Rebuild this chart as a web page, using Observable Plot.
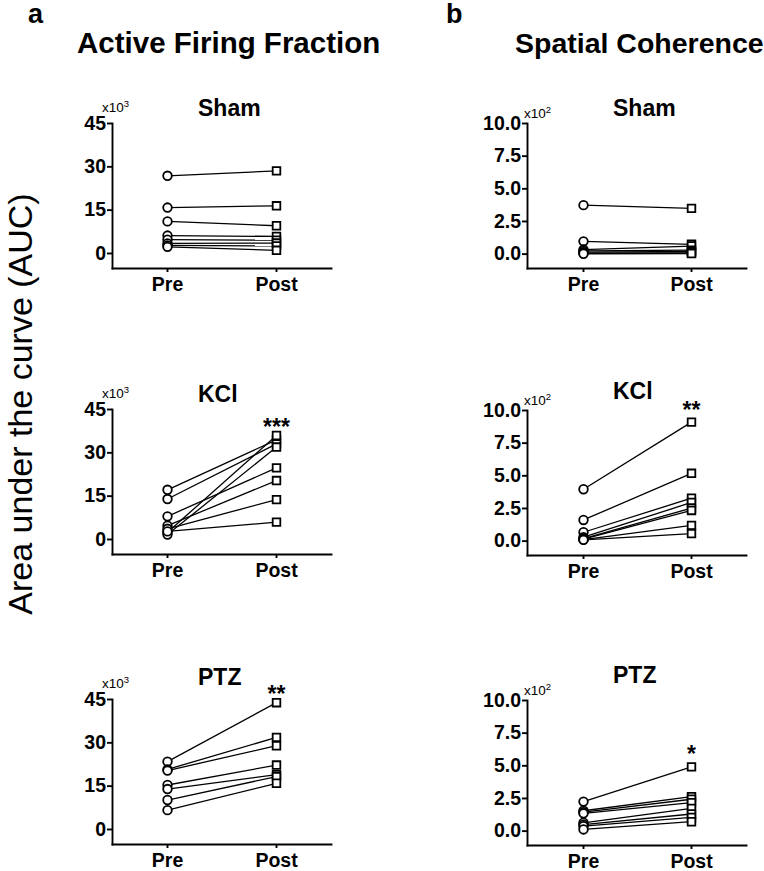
<!DOCTYPE html>
<html><head><meta charset="utf-8">
<script src="https://cdn.jsdelivr.net/npm/d3@7"></script>
<script src="https://cdn.jsdelivr.net/npm/@observablehq/plot@0.6"></script>
<style>
html,body{margin:0;padding:0;background:#fff;overflow:hidden}
#page{position:relative;width:764px;height:871px;font-family:"Liberation Sans",Arial,sans-serif}
#page > svg{position:absolute}
</style></head><body><div id="page"></div>
<script>
// ---- data ----
const phases = ["Pre", "Post"];
const groups = ["Sham", "KCl", "PTZ"];
const columns = ["Active Firing Fraction", "Spatial Coherence"];
const panelLetters = ["a", "b"];
const yLabel = "Area under the curve (AUC)";

// Active Firing Fraction (x10^3)
const affShamPre  = [26.9, 15.9, 11.1, 6.2, 4.8, 3.5, 2.8, 2.3];
const affShamPost = [28.6, 16.5, 9.6, 5.9, 4.6, 3.6, 2.6, 1.1];
const affKClPre   = [17.2, 14.0, 8.0, 4.8, 2.5, 1.7, 3.7, 2.8];
const affKClPost  = [34.5, 33.1, 24.8, 20.4, 36.0, 32.0, 13.8, 6.0];
const affPTZPre   = [23.5, 20.8, 20.4, 15.4, 14.0, 10.2, 6.7];
const affPTZPost  = [43.9, 31.9, 29.0, 22.3, 19.0, 18.3, 16.0];

// Spatial Coherence (x10^2)
const scShamPre  = [3.75, 0.98, 0.35, 0.25, 0.15, 0.08, 0.03];
const scShamPost = [3.50, 0.75, 0.62, 0.30, 0.20, 0.10, 0.05];
const scKClPre   = [3.97, 1.62, 0.68, 0.30, 0.20, 0.15, 0.12, 0.10];
const scKClPost  = [9.11, 5.19, 3.29, 2.96, 2.53, 2.35, 1.20, 0.58];
const scPTZPre   = [2.26, 1.56, 1.45, 1.36, 0.64, 0.50, 0.38, 0.13];
const scPTZPost  = [4.92, 2.64, 2.44, 2.18, 1.74, 1.31, 1.05, 0.72];

const affTicks = [0, 15, 30, 45];
const scTicks = [0, 2.5, 5.0, 7.5, 10.0];
const affMultiplier = "3";
const scMultiplier = "2";
const affStars = ["", "***", "**"];
const scStars = ["", "**", "*"];

// ---- layout ----
const page = document.getElementById("page");
const FONT = "Liberation Sans, Arial, sans-serif";
const plotH = 145, mTop = 30, mBottom = 26;

const colSpec = [
  {left: 40, width: 300, marginLeft: 72, marginRight: 9, xRange: [127, 236],
   yDomain: [-5.2, 45], ticks: affTicks, fmt: d => String(d), starDy: -8,
   tops: [123, 409, 699], titleX: 198, titleY: [116, 402, 685],
   multX: 102, multDy: -11, mult: affMultiplier, stars: affStars,
   data: [[affShamPre, affShamPost], [affKClPre, affKClPost], [affPTZPre, affPTZPost]]},
  {left: 440, width: 316, marginLeft: 87, marginRight: 10, xRange: [142.5, 250.5],
   yDomain: [-1.1, 10], ticks: scTicks, fmt: d => d.toFixed(1), starDy: -12,
   tops: [123, 410, 700], titleX: 613, titleY: [116, 399, 683],
   multX: 524, multDy: -5, mult: scMultiplier, stars: scStars,
   data: [[scShamPre, scShamPost], [scKClPre, scKClPost], [scPTZPre, scPTZPost]]}
];

function panel(spec, pre, post, star) {
  const links = pre.map((p, i) => ({pre: p, post: post[i]}));
  const preRows = pre.map(v => ({phase: phases[0], value: v}));
  const postRows = post.map(v => ({phase: phases[1], value: v}));
  const marks = [
    Plot.frame({anchor: "left", stroke: "#000", strokeWidth: 1.9}),
    Plot.frame({anchor: "bottom", stroke: "#000", strokeWidth: 1.9}),
    Plot.axisY({ticks: spec.ticks, tickFormat: spec.fmt, tickSize: 5, tickPadding: 1.5,
                strokeWidth: 1.9, label: null, fontWeight: "bold", fontSize: 19.5}),
    Plot.axisX({tickSize: 4, tickPadding: 5, strokeWidth: 1.9, label: null,
                fontWeight: "bold", fontSize: 19.5}),
    Plot.link(links, {x1: () => phases[0], x2: () => phases[1], y1: "pre", y2: "post",
                      stroke: "#000", strokeWidth: 1.3}),
    Plot.dot(preRows, {x: "phase", y: "value", symbol: "circle", r: 4.3,
                       stroke: "#000", strokeWidth: 1.8, fill: "#fff"}),
    Plot.dot(postRows, {x: "phase", y: "value", symbol: "square", r: 4.3,
                        stroke: "#000", strokeWidth: 1.8, fill: "#fff"})
  ];
  if (star) {
    marks.push(Plot.text([star], {x: () => phases[1], y: () => d3.max(post), text: d => d,
      dy: spec.starDy, fontSize: 23, fontWeight: "bold", fill: "#000"}));
  }
  return Plot.plot({
    width: spec.width, height: mTop + plotH + mBottom,
    marginLeft: spec.marginLeft, marginRight: spec.marginRight,
    marginTop: mTop, marginBottom: mBottom,
    style: {fontFamily: FONT, fontSize: "19px", fontWeight: "bold", color: "#000",
            background: "transparent", overflow: "visible"},
    x: {type: "point", domain: phases, range: spec.xRange, padding: 0},
    y: {domain: spec.yDomain},
    marks
  });
}

colSpec.forEach(spec => {
  groups.forEach((g, r) => {
    const [pre, post] = spec.data[r];
    const svg = panel(spec, pre, post, spec.stars[r]);
    svg.style.left = spec.left + "px";
    svg.style.top = (spec.tops[r] - mTop) + "px";
    page.appendChild(svg);
  });
});

// ---- overlay text ----
const ov = d3.create("svg").attr("width", 764).attr("height", 871)
  .style("left", "0px").style("top", "0px").style("pointer-events", "none")
  .style("font-family", FONT);

ov.append("text").attr("x", 28).attr("y", 23).attr("font-size", 27).attr("font-weight", "bold").text(panelLetters[0]);
ov.append("text").attr("x", 446).attr("y", 23).attr("font-size", 27).attr("font-weight", "bold").text(panelLetters[1]);
ov.append("text").attr("x", 77).attr("y", 53).attr("font-size", 29.5).attr("font-weight", "bold").text(columns[0]);
ov.append("text").attr("x", 515).attr("y", 53).attr("font-size", 28.5).attr("font-weight", "bold").text(columns[1]);
ov.append("text").attr("transform", "translate(32,404) rotate(-90)").attr("text-anchor", "middle")
  .attr("font-size", 34).text(yLabel);

colSpec.forEach(spec => {
  groups.forEach((g, r) => {
    ov.append("text").attr("x", spec.titleX).attr("y", spec.titleY[r])
      .attr("font-size", 23).attr("font-weight", "bold").text(g);
    const t = ov.append("text").attr("x", spec.multX).attr("y", spec.tops[r] + spec.multDy)
      .attr("font-size", 13.5);
    t.append("tspan").text("x10");
    t.append("tspan").attr("dy", -5).attr("font-size", 9.5).text(spec.mult);
  });
});
page.appendChild(ov.node());
</script></body></html>
